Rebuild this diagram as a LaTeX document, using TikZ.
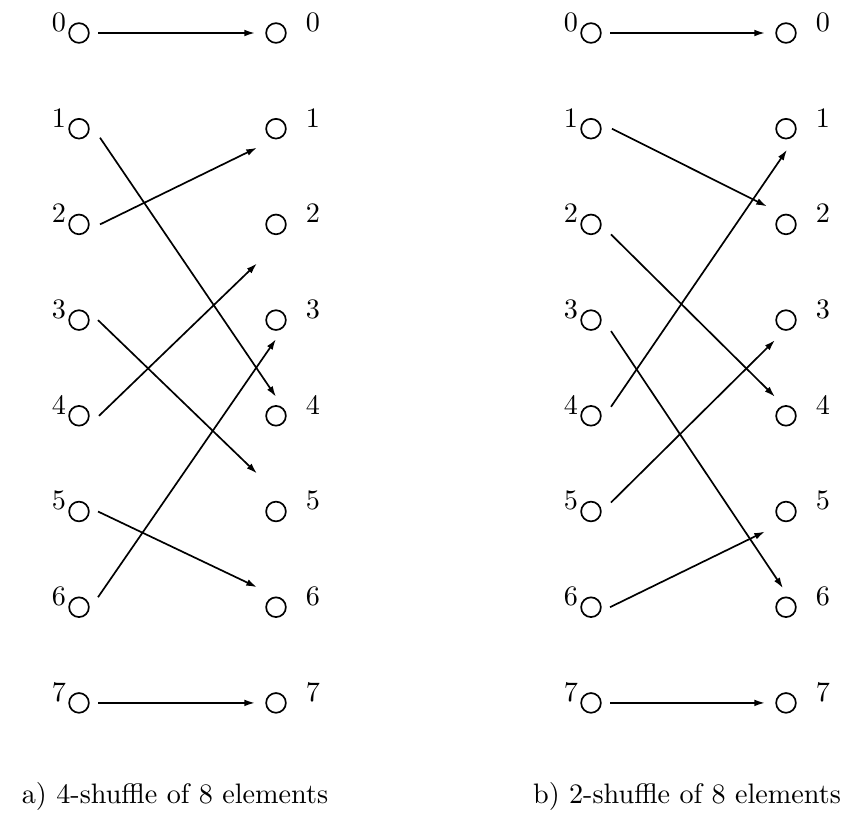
\documentclass[tikz,border=0pt]{standalone}
\usetikzlibrary{positioning, arrows.meta, calc}
\begin{document}
\begin{tikzpicture}[x=0.355pt, y=-0.355pt,
      pt/.style={draw, circle, line width=0.6pt, minimum size=7pt, inner sep=0pt},
      num/.style={inner sep=0pt},
      v/.style={-{Latex[length=3.8pt,width=2.4pt]}, line width=0.6pt}]
    \useasboundingbox (0,0) rectangle (850,814);
    % the circles and their numbers, both panels
    \foreach \i in {0,...,7} {
      \node[pt] (a\i) at (79, 33+95.7*\i) {};
      \node[pt] (b\i) at (276, 33+95.7*\i) {};
      \node[pt] (c\i) at (591, 33+95.7*\i) {};
      \node[pt] (d\i) at (786, 33+95.7*\i) {};
      \node[num] (la\i) at ($(a\i)+(-20,-11)$) {\i};
      \node[num] (lb\i) at ($(b\i)+(37,-11)$) {\i};
      \node[num] (lc\i) at ($(c\i)+(-20,-11)$) {\i};
      \node[num] (ld\i) at ($(d\i)+(37,-11)$) {\i};
    }
    % a) 4-shuffle
    \draw[v] ($(a0)+(19,0)$) -- ($(b0)+(-21,0)$);
    \draw[v] ($(a1)+(21,9)$) -- ($(b4)+(0,-19)$);
    \draw[v] ($(a2)+(21,0)$) -- ($(b1)+(-19,19)$);
    \draw[v] ($(a3)+(19,0)$) -- ($(b5)+(-19,-38)$);
    \draw[v] ($(a4)+(20,0)$) -- ($(b2)+(-19,39)$);
    \draw[v] ($(a5)+(19,0)$) -- ($(b6)+(-19,-20)$);
    \draw[v] ($(a6)+(19,-10)$) -- ($(b3)+(0,19)$);
    \draw[v] ($(a7)+(19,0)$) -- ($(b7)+(-21,0)$);
    % b) 2-shuffle
    \draw[v] ($(c0)+(19,0)$) -- ($(d0)+(-21,0)$);
    \draw[v] ($(c1)+(21,0)$) -- ($(d2)+(-19,-18)$);
    \draw[v] ($(c2)+(20,10)$) -- ($(d4)+(-11,-19)$);
    \draw[v] ($(c3)+(20,11)$) -- ($(d6)+(-3,-19)$);
    \draw[v] ($(c4)+(20,-9)$) -- ($(d1)+(1,21)$);
    \draw[v] ($(c5)+(20,-9)$) -- ($(d3)+(-11,20)$);
    \draw[v] ($(c6)+(19,0)$) -- ($(d5)+(-21,20)$);
    \draw[v] ($(c7)+(19,0)$) -- ($(d7)+(-21,0)$);
    \node[anchor=base] (capa) at (175,803) {a) 4-shuffle of 8 elements};
    \node[anchor=base] (capb) at (687,803) {b) 2-shuffle of 8 elements};
\end{tikzpicture}
\end{document}
